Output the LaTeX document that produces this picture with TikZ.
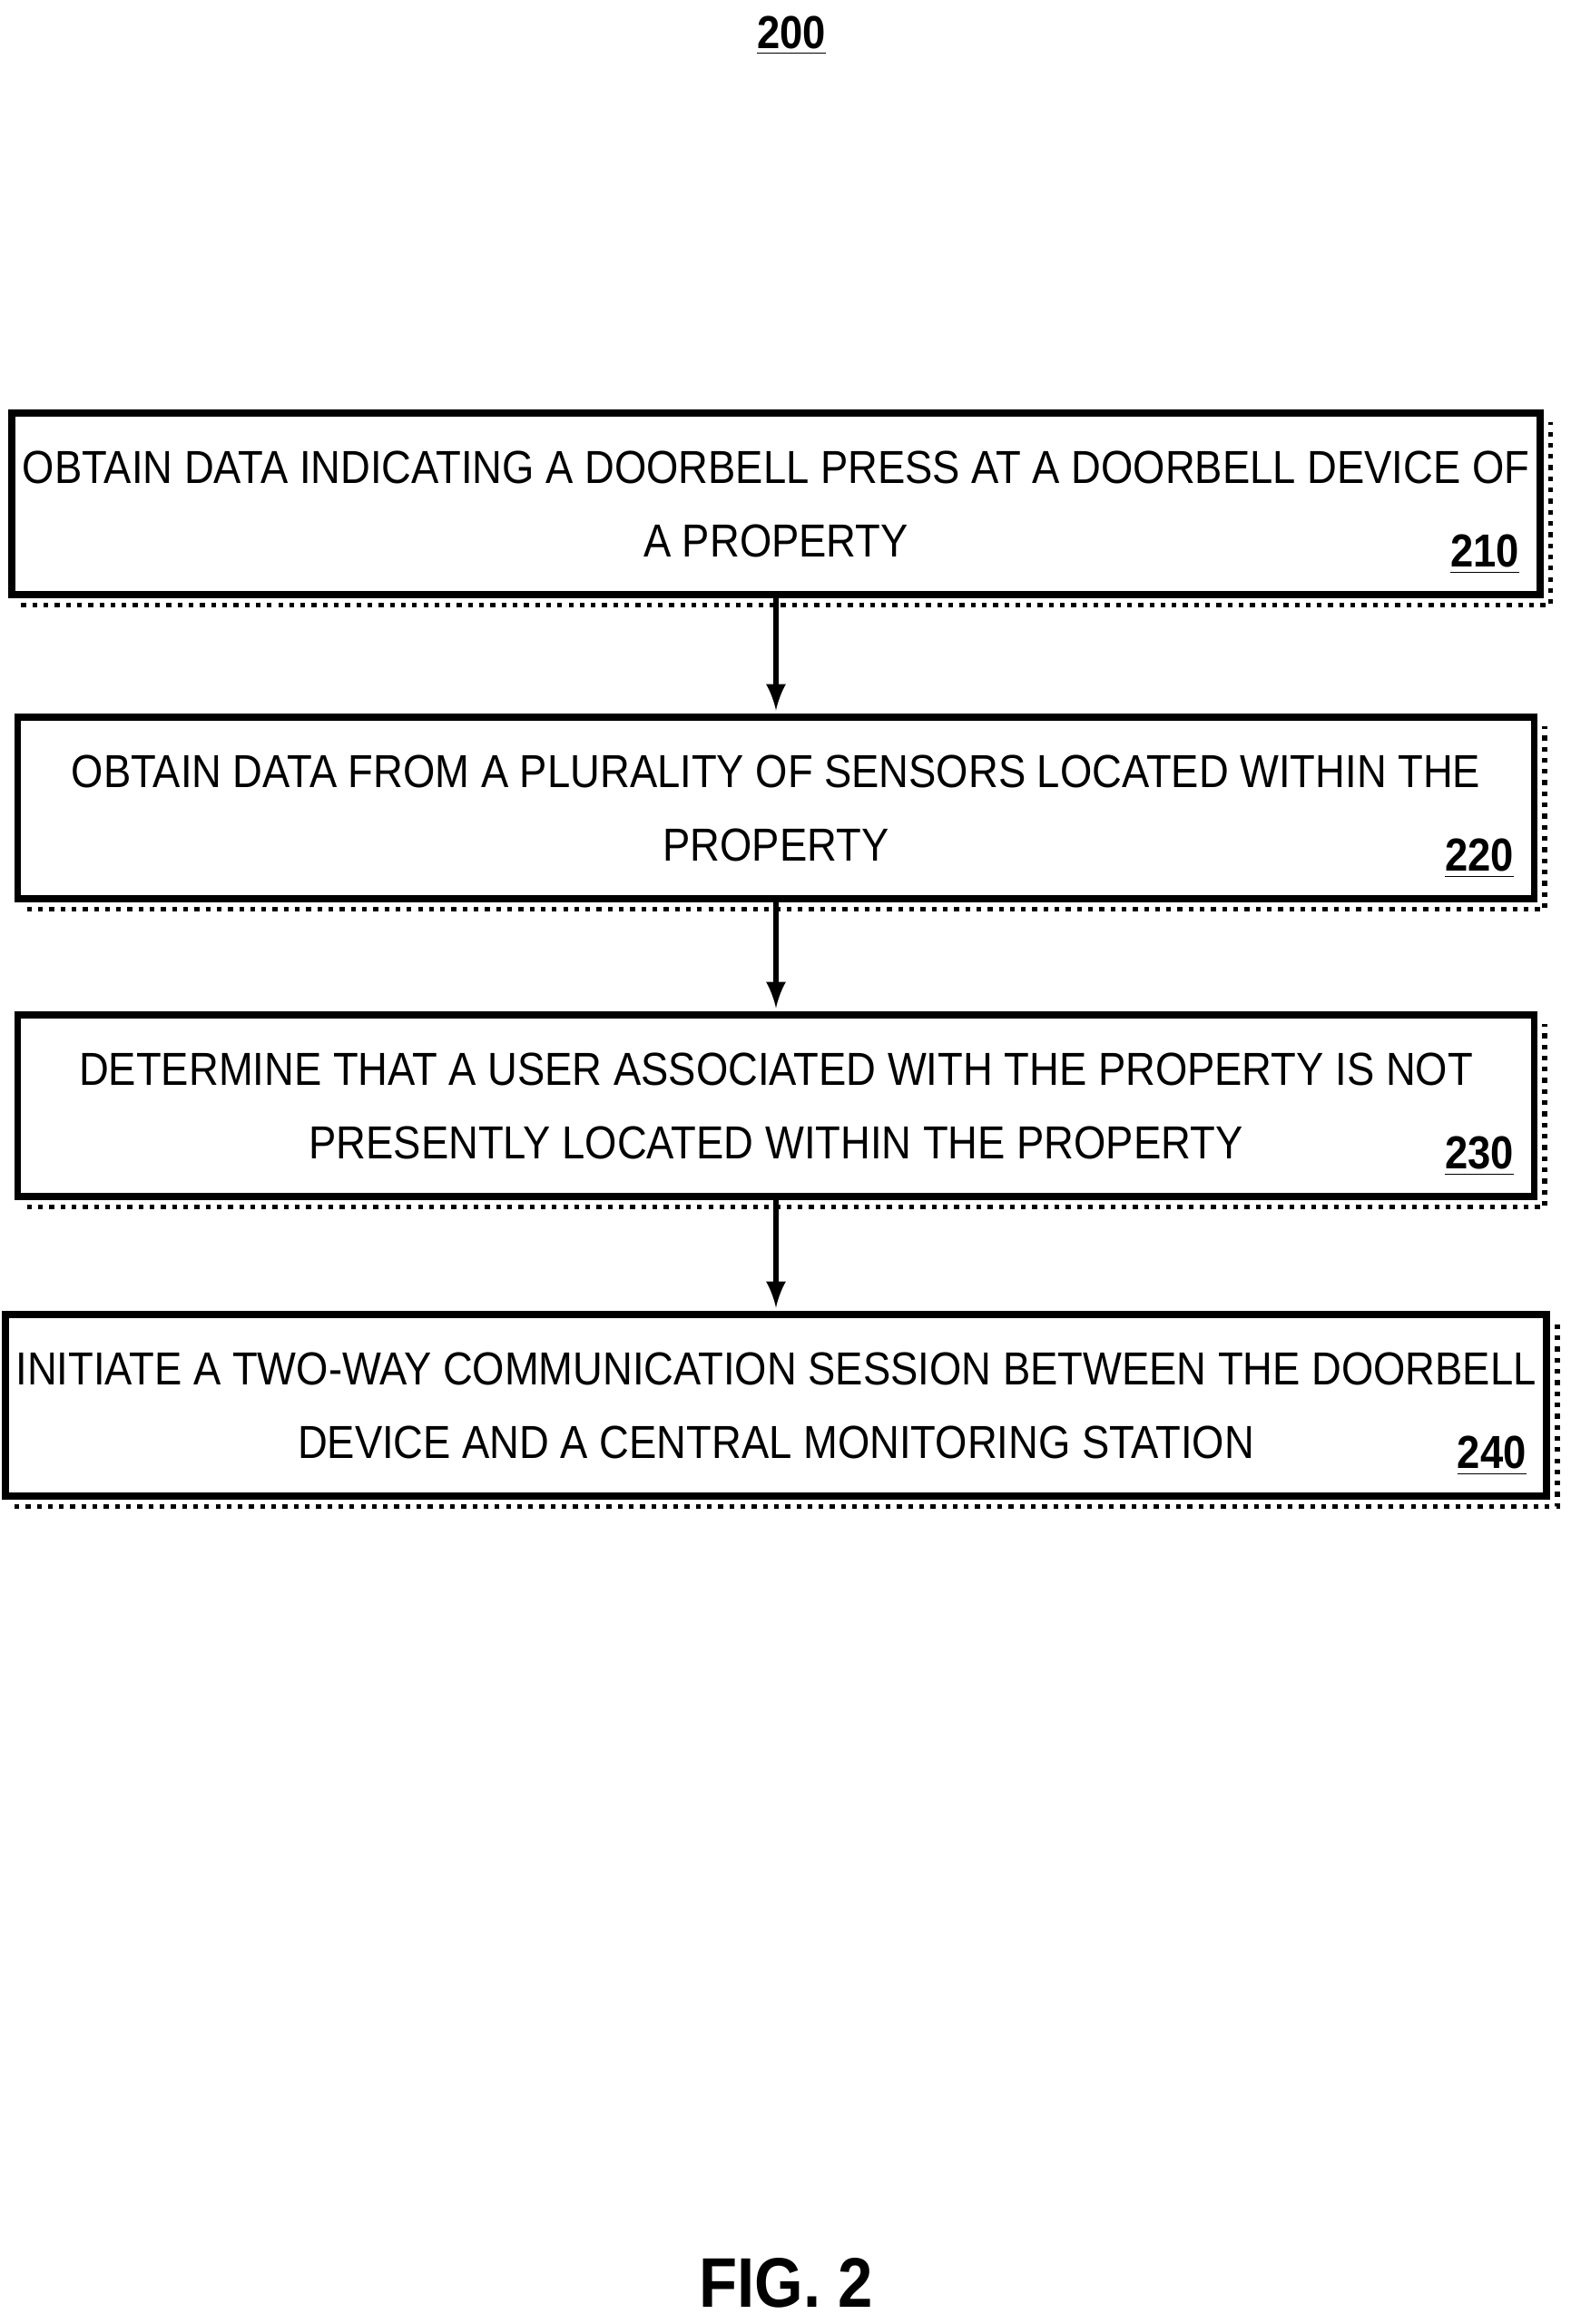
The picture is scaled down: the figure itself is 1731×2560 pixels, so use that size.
\documentclass[tikz,border=0pt]{standalone}
\usepackage{fontspec}
\setmainfont{Liberation Sans}
\newfontfamily\stepfont[FakeStretch=0.89]{Liberation Sans}
\usetikzlibrary{positioning}

\begin{document}
\begin{tikzpicture}[x=0.01cm, y=-0.01cm,
		stepbox/.style={draw, line width=2.2pt, minimum width=16.7cm, minimum height=2.0cm,
				align=center, font=\stepfont\fontsize{14.5}{23}\selectfont},
		shadowline/.style={dotted, line width=1.5pt},
		reflabel/.style={font=\bfseries\stepfont\fontsize{14.5}{16}\selectfont, anchor=south east},
		flowarrow/.style={-latex, line width=1.8pt, shorten >=1pt}]
	% page
	\useasboundingbox (0, 0) rectangle (1731, 2560);
	\node[font=\bfseries\stepfont\fontsize{14.5}{16}\selectfont] (fignum) at (872, 39) {\underline{200}};

	% steps
	\node[stepbox] (s210) at (855, 555) {OBTAIN DATA INDICATING A DOORBELL PRESS AT A DOORBELL DEVICE OF\\A PROPERTY};
	\node[stepbox] (s220) at (855, 890) {OBTAIN DATA FROM A PLURALITY OF SENSORS LOCATED WITHIN THE\\PROPERTY};
	\node[stepbox] (s230) at (855, 1218) {DETERMINE THAT A USER ASSOCIATED WITH THE PROPERTY IS NOT\\PRESENTLY LOCATED WITHIN THE PROPERTY};
	\node[stepbox] (s240) at (855, 1548) {INITIATE A TWO-WAY COMMUNICATION SESSION BETWEEN THE DOORBELL\\DEVICE AND A CENTRAL MONITORING STATION};

	% shadows and reference numbers
	\foreach \s in {210, 220, 230, 240} {
		\draw[shadowline] ([xshift=4pt, yshift=-2.2pt]s\s.south west) -| ([xshift=2.2pt, yshift=-4pt]s\s.north east);
		\node[reflabel] at ([xshift=-4pt, yshift=4pt]s\s.south east) {\underline{\s}};
	}

	% arrows
	\draw[flowarrow] (s210) -- (s220);
	\draw[flowarrow] (s220) -- (s230);
	\draw[flowarrow] (s230) -- (s240);

	\node[font=\bfseries\stepfont\fontsize{22}{26}\selectfont] (caption) at (866, 2515) {FIG. 2};
\end{tikzpicture}
\end{document}
